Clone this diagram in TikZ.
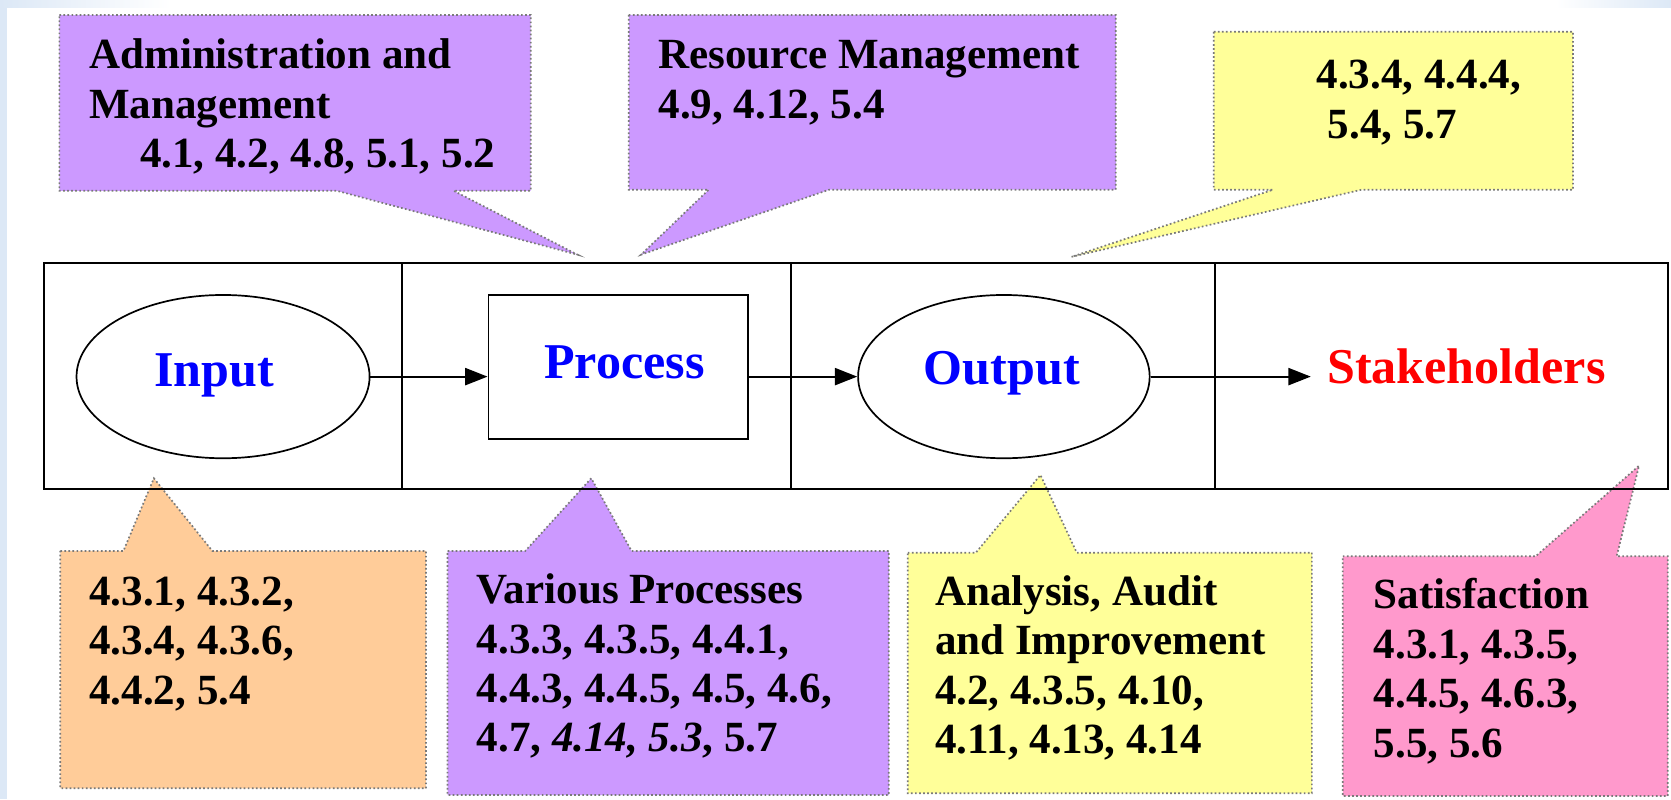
\documentclass[tikz,border=0pt]{standalone}
\usepackage{fontspec}
\setmainfont{Liberation Serif}
\usetikzlibrary{arrows.meta,shapes.geometric}

\definecolor{bgblue}{HTML}{DCE8F6}
\definecolor{lavender}{HTML}{CC99FF}
\definecolor{peach}{HTML}{FFCC99}
\definecolor{lemon}{HTML}{FFFF99}
\definecolor{rose}{HTML}{FF99CC}
\definecolor{edgegray}{HTML}{7A7A7A}

\begin{document}
\begin{tikzpicture}[x=0.5pt,y=-0.5pt,
  bubble/.style={fill=#1, draw=edgegray, line width=0.8pt, dash pattern=on 0.8pt off 1.1pt},
  calltext/.style={anchor=north west, inner sep=0pt, align=left,
    font=\fontsize{20.2}{23.2}\selectfont\bfseries},
  stagetext/.style={anchor=base, inner sep=0pt,
    font=\fontsize{23.5}{28}\selectfont\bfseries},
  oval/.style={ellipse, draw, line width=0.8pt, inner sep=0pt,
    minimum width=#1, minimum height=76.6pt},
  flow/.style={line width=1pt, -{Triangle[length=10.5pt,width=8pt]}}]

% page and soft blue edges
\useasboundingbox (0,0) rectangle (1568,750);
\fill[white] (0,0) rectangle (1568,750);
\fill[bgblue] (0,0) rectangle (6.6,750);
\shade[left color=bgblue, right color=white] (0,0) rectangle (160,6.6);
\shade[left color=white, right color=bgblue] (1460,0) rectangle (1568,6.6);

% callouts above the flow
\path[bubble=lavender] (55.7,14.1) -- (498,14.1) -- (498,179) -- (425.6,179)
  -- (542,239) -- (316,179) -- (55.7,179) -- cycle;
\path[bubble=lavender] (590,14) -- (1047,14) -- (1047,178) -- (778,178)
  -- (601.5,239) -- (665,178) -- (590,178) -- cycle;
\path[bubble=lemon] (1139,29.7) -- (1476,29.7) -- (1476,178) -- (1277.7,178)
  -- (1005.5,241) -- (1194.5,178) -- (1139,178) -- cycle;

% callouts below the flow
\path[bubble=peach] (56.6,517) -- (115.8,517) -- (144.4,448.8) -- (199.3,517)
  -- (399.7,517) -- (399.7,739.7) -- (56.6,739.7) -- cycle;
\path[bubble=lavender] (420,517) -- (492.9,517) -- (554.8,448.8) -- (592.6,517)
  -- (834,517) -- (834,746) -- (420,746) -- cycle;
\path[bubble=lemon] (851.8,518.6) -- (915.7,518.6) -- (976.3,445.7) -- (1010.4,518.6)
  -- (1231,518.6) -- (1231,744.4) -- (851.8,744.4) -- cycle;
\path[bubble=rose] (1260,522) -- (1441,522) -- (1538,437) -- (1517,522)
  -- (1565,522) -- (1565,747) -- (1260,747) -- cycle;

% callout texts
\node[calltext] (admin) at (83.3,31.5)
  {\strut Administration and\\Management\\\hspace*{23.9pt}4.1, 4.2, 4.8, 5.1, 5.2};
\node[calltext] (resource) at (617.5,31.5)
  {\strut Resource Management\\4.9, 4.12, 5.4};
\node[calltext] (measure) at (1235,50.5)
  {\strut 4.3.4, 4.4.4,\\\hspace*{5.3pt}5.4, 5.7};
\node[calltext] (inputs) at (83.5,535.2)
  {\strut 4.3.1, 4.3.2,\\4.3.4, 4.3.6,\\4.4.2, 5.4};
\node[calltext] (various) at (447,533.5)
  {\strut Various Processes\\4.3.3, 4.3.5, 4.4.1,\\4.4.3, 4.4.5, 4.5, 4.6,\\4.7, \textit{4.14, 5.3}, 5.7};
\node[calltext] (analysis) at (877,535.2)
  {\strut Analysis, Audit\\and Improvement\\4.2, 4.3.5, 4.10,\\4.11, 4.13, 4.14};
\node[calltext] (satisfaction) at (1288.7,538.3)
  {\strut Satisfaction\\4.3.1, 4.3.5,\\4.4.5, 4.6.3,\\5.5, 5.6};

% frame of the four stages
\draw[line width=1pt] (41,247) rectangle (1565,459);
\draw[line width=1pt] (377,247) -- (377,459);
\draw[line width=1pt] (742.5,247) -- (742.5,459);
\draw[line width=1pt] (1140,247) -- (1140,459);

% stage shapes
\node[oval=137.5pt] (input) at (209.3,353.4) {};
\node[draw, line width=0.9pt, inner sep=0pt, minimum width=121.8pt,
  minimum height=67.6pt] (process) at (580.2,344.4) {};
\node[oval=136.8pt] (output) at (942,353.4) {};
\coordinate (stkin) at (1230,353.4);

% stage names
\node[stagetext, text=blue] (inputlbl) at (201,362.8) {Input};
\node[stagetext, text=blue] (processlbl) at (586,355) {Process};
\node[stagetext, text=blue] (outputlbl) at (940,361) {Output};
\node[stagetext, text=red] (stakeholders) at (1376,359.7) {Stakeholders};

% flow arrows
\draw[flow] (input.east) -- (input.east -| process.west);
\draw[flow] (process.east |- output.west) -- (output.west);
\draw[flow] (output.east) -- (stkin);
\end{tikzpicture}
\end{document}
